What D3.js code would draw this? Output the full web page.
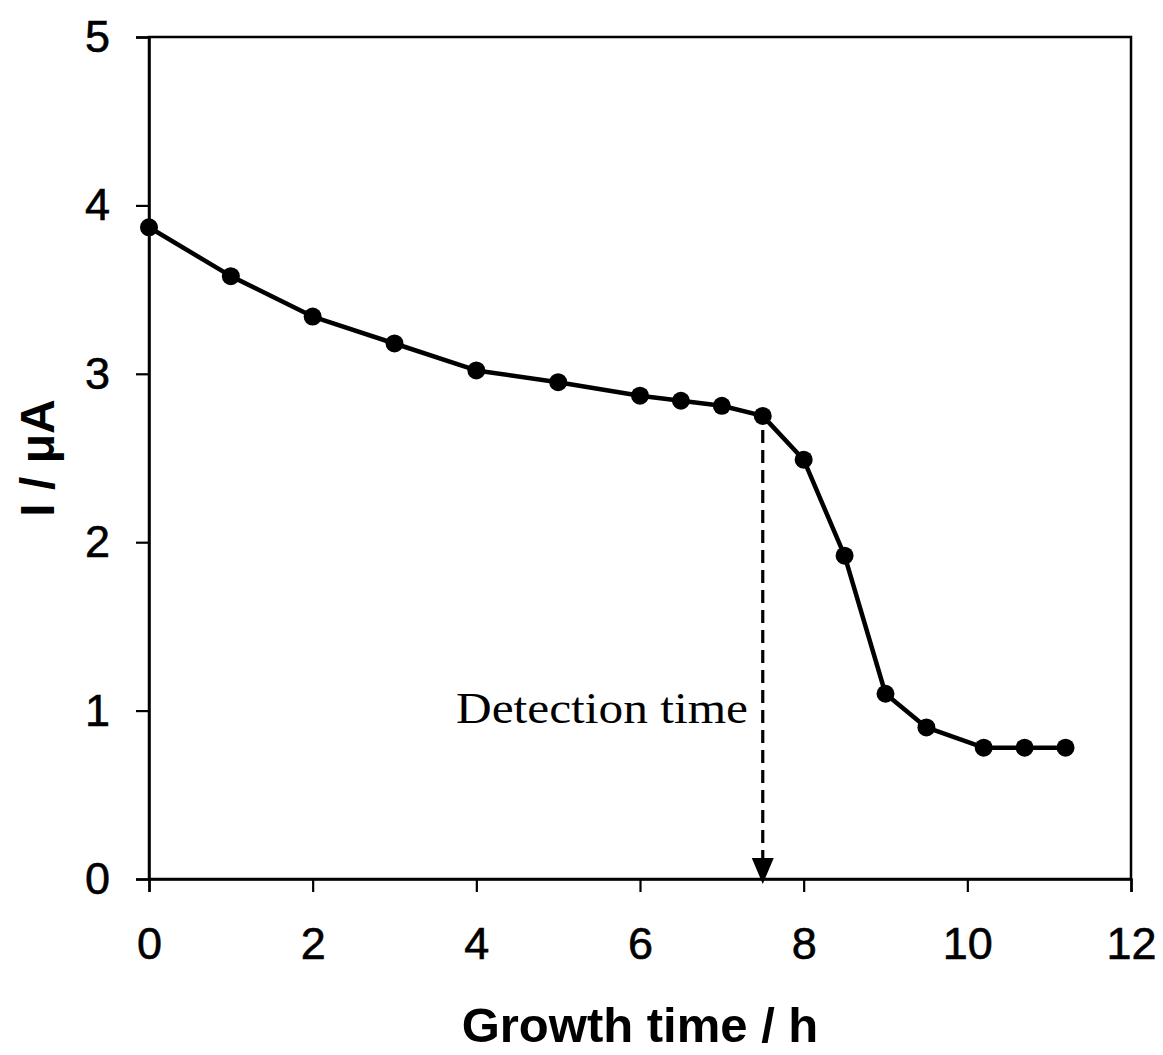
<!DOCTYPE html>
<html>
<head>
<meta charset="utf-8">
<script src="https://cdn.jsdelivr.net/npm/d3@7"></script>
<style>
  html, body { margin: 0; padding: 0; background: #fff; }
  svg { display: block; }
</style>
</head>
<body>
<script>
// Growth time (h) and measured current (µA)
const growthTime = [0, 1, 2, 3, 4, 5, 6, 6.5, 7, 7.5, 8, 8.5, 9, 9.5, 10.2, 10.7, 11.2];
const current    = [3.87, 3.58, 3.34, 3.18, 3.02, 2.95, 2.87, 2.84, 2.81, 2.75, 2.49, 1.92, 1.10, 0.90, 0.78, 0.78, 0.78];
const xTicks = [0, 2, 4, 6, 8, 10, 12];
const yTicks = [0, 1, 2, 3, 4, 5];
const detectionTime = 7.5;
const detectionLabel = "Detection time";

const W = 1163, H = 1055;
const m = { left: 149, right: 32, top: 37, bottom: 176 };

const svg = d3.select("body").append("svg").attr("width", W).attr("height", H);

const x = d3.scaleLinear().domain([0, 12]).range([m.left, W - m.right]);
const y = d3.scaleLinear().domain([0, 5]).range([H - m.bottom, m.top]);

const sans = "Liberation Sans, Arial, sans-serif";

// plot frame
svg.append("rect")
  .attr("x", x(0)).attr("y", y(5))
  .attr("width", x(12) - x(0)).attr("height", y(0) - y(5))
  .attr("fill", "none").attr("stroke", "#000").attr("stroke-width", 2.5);

// x axis
const xAxis = svg.append("g")
  .attr("transform", `translate(0,${y(0)})`)
  .call(d3.axisBottom(x).tickValues(xTicks).tickSize(13).tickPadding(35).tickFormat(d3.format("d")));
xAxis.select(".domain").attr("stroke-width", 2.5);
xAxis.selectAll(".tick line").attr("stroke-width", 2.2);
xAxis.selectAll("text").attr("font-family", sans)
  .attr("font-size", 45).attr("fill", "#000")
  .attr("stroke", "#000").attr("stroke-width", 0.6);

// y axis
const yAxis = svg.append("g")
  .attr("transform", `translate(${x(0)},0)`)
  .call(d3.axisLeft(y).tickValues(yTicks).tickSize(13).tickPadding(26).tickFormat(d3.format("d")));
yAxis.select(".domain").attr("stroke-width", 2.5);
yAxis.selectAll(".tick line").attr("stroke-width", 2.2);
yAxis.selectAll("text").attr("font-family", sans)
  .attr("font-size", 45).attr("fill", "#000")
  .attr("stroke", "#000").attr("stroke-width", 0.6);

// axis titles
svg.append("text")
  .attr("x", 640).attr("y", 1042)
  .attr("text-anchor", "middle")
  .attr("font-family", sans)
  .attr("font-weight", "bold").attr("font-size", 49)
  .text("Growth time / h");

svg.append("text")
  .attr("transform", `translate(54,${458}) rotate(-90)`)
  .attr("text-anchor", "middle")
  .attr("font-family", sans)
  .attr("font-weight", "bold").attr("font-size", 48)
  .text("I / μA");

// detection-time marker: dashed drop line and arrow head
const detIdx = growthTime.indexOf(detectionTime);
const arrowTip = y(0) + 5;
svg.append("line")
  .attr("x1", x(detectionTime)).attr("x2", x(detectionTime))
  .attr("y1", y(current[detIdx]) + 14).attr("y2", arrowTip - 18)
  .attr("stroke", "#000").attr("stroke-width", 3.2)
  .attr("stroke-dasharray", "13,7");
svg.append("path")
  .attr("d", `M${x(detectionTime) - 11},${arrowTip - 26} L${x(detectionTime) + 11},${arrowTip - 26} L${x(detectionTime)},${arrowTip} Z`)
  .attr("fill", "#000");

svg.append("text")
  .attr("x", 456).attr("y", 723)
  .attr("font-family", "Liberation Serif, Times New Roman, serif")
  .attr("font-size", 45)
  .attr("textLength", 292).attr("lengthAdjust", "spacingAndGlyphs")
  .text(detectionLabel);

// data line and markers
const pts = growthTime.map((t, i) => [t, current[i]]);
svg.append("path")
  .datum(pts)
  .attr("fill", "none").attr("stroke", "#000").attr("stroke-width", 4.5)
  .attr("stroke-linejoin", "round")
  .attr("d", d3.line().x(d => x(d[0])).y(d => y(d[1])));

svg.append("g").selectAll("circle")
  .data(pts).join("circle")
  .attr("cx", d => x(d[0])).attr("cy", d => y(d[1]))
  .attr("r", 9).attr("fill", "#000");
</script>
</body>
</html>
